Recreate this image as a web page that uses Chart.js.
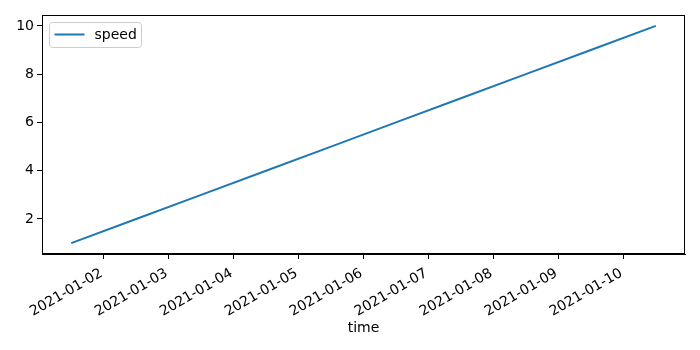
<!DOCTYPE html>
<html>
<head>
<meta charset="utf-8">
<script src="https://cdn.jsdelivr.net/npm/chart.js@4/dist/chart.umd.min.js"></script>
<style>
  html, body { margin: 0; padding: 0; background: #fff; }
  #wrap { width: 700px; height: 350px; }
</style>
</head>
<body>
<div id="wrap"><canvas id="chart" width="700" height="350"></canvas></div>
<script>
const times = ['2021-01-01 12:00', '2021-01-02 12:00', '2021-01-03 12:00', '2021-01-04 12:00', '2021-01-05 12:00',
  '2021-01-06 12:00', '2021-01-07 12:00', '2021-01-08 12:00', '2021-01-09 12:00', '2021-01-10 12:00'];
const speed = [1, 2, 3, 4, 5, 6, 7, 8, 9, 10];
const xTickLabels = ['2021-01-02', '2021-01-03', '2021-01-04', '2021-01-05', '2021-01-06',
  '2021-01-07', '2021-01-08', '2021-01-09', '2021-01-10'];
const yTicks = [2, 4, 6, 8, 10];

const FONT = 'DejaVu Sans';
const FONT_SIZE = 14;
const lineColor = '#1f77b4';

function toDays(str) {
  return Date.parse(str.replace(' ', 'T') + 'Z') / 86400000;
}

const points = times.map((t, i) => ({ x: toDays(t), y: speed[i] }));
const xTickValues = xTickLabels.map(d => toDays(d + ' 00:00'));

// matplotlib style 5% margins
const xSpan = points[points.length - 1].x - points[0].x;
const xMin = points[0].x - xSpan * 0.05;
const xMax = points[points.length - 1].x + xSpan * 0.05;
const ySpan = Math.max(...speed) - Math.min(...speed);
const yMin = Math.min(...speed) - ySpan * 0.05;
const yMax = Math.max(...speed) + ySpan * 0.05;

const framePlugin = {
  id: 'frame',
  afterDraw(chart) {
    const { ctx, chartArea: a } = chart;
    ctx.save();
    ctx.strokeStyle = '#000';
    ctx.lineWidth = 1;
    ctx.strokeRect(Math.round(a.left) + 0.5, Math.round(a.top) + 0.5,
      Math.round(a.right - a.left) - 1, Math.round(a.bottom - a.top) - 1);

    // legend inside upper left
    const lx = Math.round(a.left) + 7.5;
    const ly = Math.round(a.top) + 7.5;
    const lw = 92, lh = 25;
    ctx.beginPath();
    ctx.roundRect(lx, ly, lw, lh, 3);
    ctx.fillStyle = 'rgba(255,255,255,0.8)';
    ctx.fill();
    ctx.strokeStyle = '#cccccc';
    ctx.stroke();
    ctx.beginPath();
    ctx.moveTo(lx + 5, ly + 12);
    ctx.lineTo(lx + 35, ly + 12);
    ctx.strokeStyle = lineColor;
    ctx.lineWidth = 2;
    ctx.stroke();
    ctx.fillStyle = '#000';
    ctx.font = FONT_SIZE + 'px "' + FONT + '"';
    ctx.textBaseline = 'middle';
    ctx.fillText('speed', lx + 45, ly + 12.5);
    ctx.restore();
  }
};

new Chart(document.getElementById('chart'), {
  type: 'line',
  data: {
    datasets: [{
      label: 'speed',
      data: points,
      borderColor: lineColor,
      borderWidth: 2,
      pointRadius: 0,
      fill: false,
      tension: 0
    }]
  },
  options: {
    responsive: false,
    animation: false,
    layout: { padding: { top: 15, right: 15, left: 0, bottom: 0 } },
    plugins: {
      legend: { display: false },
      tooltip: { enabled: false }
    },
    scales: {
      x: {
        type: 'linear',
        min: xMin,
        max: xMax,
        afterBuildTicks: scale => {
          scale.ticks = xTickValues.map(v => ({ value: v }));
        },
        afterFit: scale => { scale.height = 96; },
        grid: { drawOnChartArea: false, drawTicks: true, tickLength: 5, tickColor: '#000' },
        border: { display: true, color: '#000' },
        ticks: {
          color: '#000',
          font: { family: FONT, size: FONT_SIZE },
          minRotation: 30,
          maxRotation: 30,
          padding: 6,
          labelOffset: -2,
          callback: value => {
            const i = xTickValues.indexOf(value);
            return i >= 0 ? xTickLabels[i] : '';
          }
        },
        title: {
          display: true,
          text: 'time',
          color: '#000',
          font: { family: FONT, size: FONT_SIZE },
          padding: { top: 0, bottom: 13 }
        }
      },
      y: {
        type: 'linear',
        min: yMin,
        max: yMax,
        afterBuildTicks: scale => {
          scale.ticks = yTicks.map(v => ({ value: v }));
        },
        afterFit: scale => { scale.width = 42; },
        grid: { drawOnChartArea: false, drawTicks: true, tickLength: 5, tickColor: '#000' },
        border: { display: true, color: '#000' },
        ticks: {
          color: '#000',
          font: { family: FONT, size: FONT_SIZE },
          padding: 3
        }
      }
    }
  },
  plugins: [framePlugin]
});
</script>
</body>
</html>
